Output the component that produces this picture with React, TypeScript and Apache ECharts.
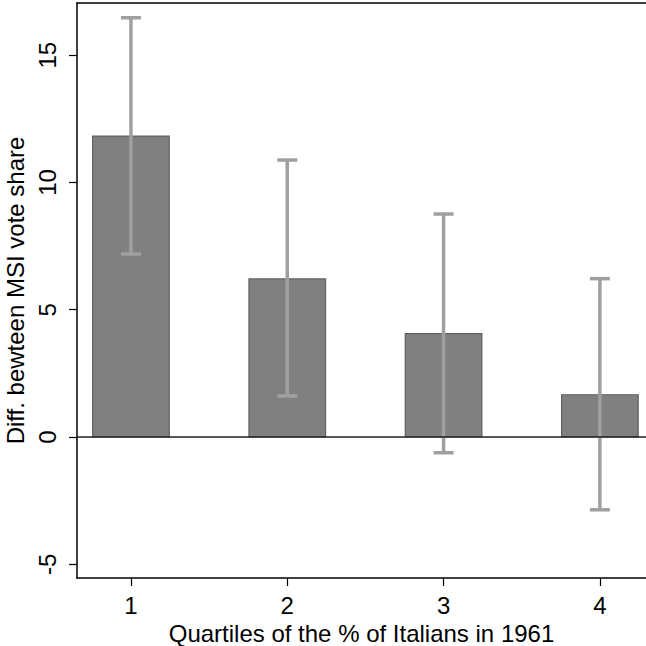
import React, { useEffect, useRef } from "react";
import * as echarts from "echarts";

const quartiles = [1, 2, 3, 4];
const means = [11.82, 6.21, 4.06, 1.66];
const upper = [16.47, 10.88, 8.76, 6.22];
const lower = [7.19, 1.61, -0.62, -2.86];
const yTicks = [-5, 0, 5, 10, 15];
const xTicks = [1, 2, 3, 4];

const FONT = "'Liberation Sans', Arial, Helvetica, sans-serif";
const FS = 24;

export default function App() {
  const ref = useRef<HTMLDivElement>(null);
  useEffect(() => {
    if (!ref.current) return;
    const chart = echarts.init(ref.current, null, { renderer: "svg" });
    const barData = quartiles.map((q, i) => [q, means[i]]);
    const errData = quartiles.map((q, i) => [q, lower[i], upper[i]]);
    chart.setOption({
      animation: false,
      backgroundColor: "#ffffff",
      grid: { left: 77, top: 3, right: 0, bottom: 68, containLabel: false, outerBoundsMode: "none" },
      xAxis: [
        {
          type: "value",
          min: 0.655,
          max: 4.295,
          name: "Quartiles of the % of Italians in 1961",
          nameLocation: "middle",
          nameGap: 36,
          nameTextStyle: { fontFamily: FONT, fontSize: FS, color: "#000" },
          axisLine: { show: true, onZero: false, lineStyle: { color: "#000", width: 1.5 } },
          axisTick: { show: true, customValues: xTicks, length: 8, lineStyle: { color: "#000", width: 1.2 } },
          axisLabel: { customValues: xTicks, margin: 15, fontFamily: FONT, fontSize: FS, color: "#000" },
          splitLine: { show: false },
        },
        {
          type: "value",
          position: "top",
          min: 0.655,
          max: 4.295,
          axisLine: { show: true, onZero: false, lineStyle: { color: "#000", width: 1.5 } },
          axisTick: { show: false },
          axisLabel: { show: false },
          splitLine: { show: false },
        },
      ],
      yAxis: {
        type: "value",
        min: -5.54,
        max: 17.05,
        name: "Diff. bewteen MSI vote share",
        nameLocation: "middle",
        nameRotate: 90,
        nameGap: 44,
        nameTextStyle: { fontFamily: FONT, fontSize: FS, color: "#000" },
        axisLine: { show: true, onZero: false, lineStyle: { color: "#000", width: 1.5 } },
        axisTick: { show: true, customValues: yTicks, length: 8, lineStyle: { color: "#000", width: 1.2 } },
        axisLabel: { customValues: yTicks, rotate: 90, margin: 18, fontFamily: FONT, fontSize: FS, color: "#000" },
        splitLine: { show: false },
      },
      series: [
        {
          type: "custom",
          xAxisIndex: 0,
          data: barData,
          renderItem: (params: any, api: any) => {
            const x = api.value(0);
            const v = api.value(1);
            const p0 = api.coord([x - 0.245, v]);
            const p1 = api.coord([x + 0.245, 0]);
            return {
              type: "rect",
              shape: { x: p0[0], y: p0[1], width: p1[0] - p0[0], height: p1[1] - p0[1] },
              style: { fill: "#808080", stroke: "#606060", lineWidth: 1.2 },
            };
          },
          markLine: {
            silent: true,
            symbol: "none",
            label: { show: false },
            lineStyle: { color: "#222", width: 1.5, type: "solid" },
            data: [{ yAxis: 0 }],
          },
          z: 2,
        },
        {
          type: "custom",
          xAxisIndex: 0,
          data: errData,
          renderItem: (params: any, api: any) => {
            const x = api.value(0);
            const lo = api.coord([x, api.value(1)]);
            const hi = api.coord([x, api.value(2)]);
            const cap = 10;
            const style = { stroke: "#a0a0a0", lineWidth: 3.5 };
            return {
              type: "group",
              children: [
                { type: "line", shape: { x1: lo[0], y1: lo[1], x2: hi[0], y2: hi[1] }, style },
                { type: "line", shape: { x1: lo[0] - cap, y1: lo[1], x2: lo[0] + cap, y2: lo[1] }, style },
                { type: "line", shape: { x1: hi[0] - cap, y1: hi[1], x2: hi[0] + cap, y2: hi[1] }, style },
              ],
            };
          },
          z: 3,
        },
      ],
    });
    return () => chart.dispose();
  }, []);
  return <div ref={ref} style={{ width: 646, height: 646, position: "absolute", left: 0, top: 0 }} />;
}
